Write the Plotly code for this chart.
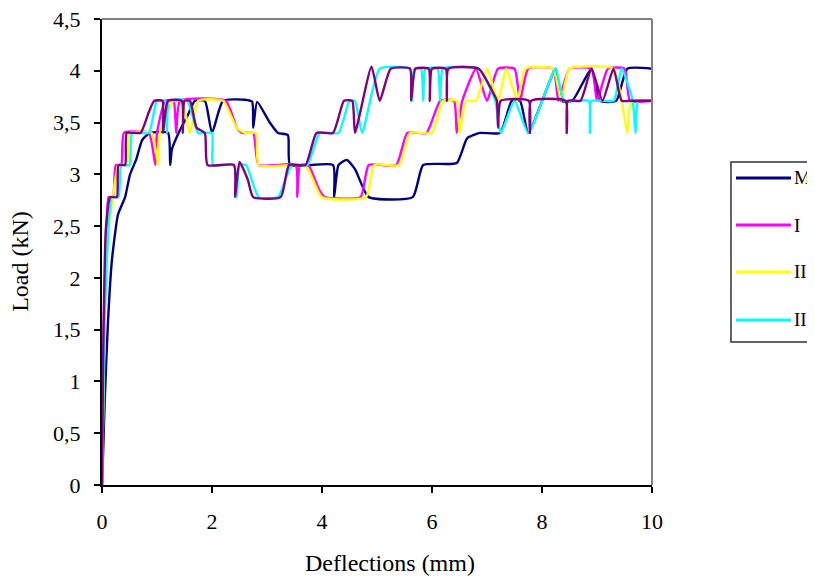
import plotly.graph_objects as go

# load-deflection curves (x in mm, y in kN)
m_x = [0, 0.02, 0.05, 0.11, 0.18, 0.29, 0.42, 0.51, 0.62, 0.73, 0.87, 1.2, 1.24, 1.27, 1.42, 1.56,
       1.69, 1.87, 2.0, 2.2, 2.6, 2.73, 2.75, 2.82, 3.05, 3.2, 3.38, 3.42, 4.2, 4.22, 4.3, 4.45,
       4.6, 4.85, 5.65, 5.84, 6.45, 6.64, 6.87, 7.24, 7.45, 7.6, 7.75, 8.25, 8.35, 8.55, 8.9,
       9.05, 9.35, 9.55, 10]
m_y = [0, 0.31, 0.82, 1.59, 2.17, 2.61, 2.78, 3.0, 3.14, 3.33, 3.40, 3.40, 3.09, 3.24, 3.43, 3.57,
       3.71, 3.71, 3.40, 3.71, 3.72, 3.70, 3.45, 3.70, 3.50, 3.40, 3.38, 3.09, 3.09, 2.78, 3.09, 3.14,
       3.05, 2.78, 2.78, 3.09, 3.11, 3.35, 3.40, 3.40, 3.71, 3.71, 3.40, 4.02, 3.71, 3.71, 4.02,
       3.71, 3.71, 4.02, 4.02]

i_x = [0, 0.03, 0.08, 0.12, 0.2, 0.25, 0.35, 0.4, 0.85, 0.97, 1.0, 1.15, 1.3, 1.35, 1.42, 2.25,
       2.45, 2.55, 2.75, 2.85, 3.52, 3.55, 3.6, 3.75, 3.95, 4.05, 4.7, 4.85, 5.35, 5.55, 5.9, 6.15,
       6.4, 6.45, 6.55, 6.8, 7.0, 7.2, 7.5, 7.6, 7.75, 8.2, 8.3, 8.5, 8.9, 9.0, 9.2, 9.5, 9.6, 10]
i_y = [0, 1.5, 2.4, 2.78, 2.78, 3.09, 3.09, 3.40, 3.40, 3.09, 3.40, 3.71, 3.71, 3.40, 3.71, 3.71,
       3.45, 3.40, 3.40, 3.09, 3.09, 2.78, 3.09, 3.09, 2.85, 2.78, 2.78, 3.09, 3.09, 3.40, 3.40, 3.71,
       3.71, 3.40, 3.71, 4.02, 3.71, 4.02, 4.02, 3.71, 4.02, 4.02, 3.71, 4.02, 4.02, 3.71, 4.02, 4.02, 3.71, 3.71]

ii_x = [0, 0.05, 0.12, 0.2, 0.3, 0.45, 0.5, 0.9, 1.02, 1.05, 1.3, 1.45, 1.6, 1.75, 2.2, 2.45, 2.6,
        2.8, 2.85, 3.65, 3.75, 4.0, 4.8, 4.95, 5.4, 5.6, 6.0, 6.2, 6.45, 6.5, 6.62, 6.8, 7.0, 7.2,
        7.35, 7.55, 7.7, 8.2, 8.35, 8.5, 9.3, 9.45, 9.55, 9.62, 10]
ii_y = [0, 1.6, 2.5, 2.78, 3.09, 3.09, 3.40, 3.40, 3.09, 3.40, 3.71, 3.71, 3.40, 3.71, 3.71, 3.45, 3.40,
        3.40, 3.09, 3.09, 3.05, 2.78, 2.78, 3.09, 3.09, 3.40, 3.40, 3.71, 3.71, 3.40, 3.71, 3.71, 4.02, 3.71,
        4.02, 3.71, 4.02, 4.02, 3.71, 4.02, 4.02, 3.71, 3.40, 3.71, 3.71]

iib_x = [0, 0.04, 0.1, 0.18, 0.3, 0.35, 0.5, 0.55, 0.85, 1.0, 1.15, 1.18, 1.22, 1.55, 1.75, 2.0,
         2.02, 2.4, 2.45, 2.5, 2.62, 2.85, 3.2, 3.45, 3.73, 3.96, 4.3, 4.5, 4.6, 4.73, 5.05, 5.6,
         5.64, 5.68, 5.8, 5.84, 5.88, 6.1, 6.15, 6.2, 6.85, 7.15, 7.25, 7.5, 7.75, 8.25, 8.4, 8.85,
         8.87, 8.9, 9.3, 9.45, 9.65, 9.7, 9.75, 10]
iib_y = [0, 1.4, 2.3, 2.78, 2.78, 3.09, 3.09, 3.40, 3.40, 3.71, 3.71, 3.40, 3.71, 3.71, 3.40, 3.40,
         3.09, 3.09, 2.78, 3.09, 3.09, 2.78, 2.78, 3.09, 3.09, 3.40, 3.40, 3.71, 3.71, 3.40, 4.02, 4.02,
         3.71, 4.02, 4.02, 3.71, 4.02, 4.02, 3.71, 4.02, 4.02, 3.71, 3.40, 3.71, 3.40, 4.02, 3.71, 3.71,
         3.40, 3.71, 3.71, 4.02, 3.71, 3.40, 3.71, 3.71]

v_x = [0, 0.02, 0.07, 0.15, 0.27, 0.3, 0.42, 0.45, 0.7, 0.85, 0.95, 1.1, 1.11, 1.2, 1.45, 1.47,
       1.5, 1.6, 1.72, 1.87, 1.92, 2.4, 2.42, 2.5, 2.65, 2.75, 3.25, 3.4, 3.7, 3.9, 4.2, 4.4, 4.55,
       4.6, 4.9, 5.05, 5.25, 5.6, 5.62, 5.7, 5.94, 5.96, 6.0, 6.25, 6.27, 6.3, 6.85, 7.1, 7.18,
       7.2, 7.25, 7.76, 7.78, 7.8, 8.43, 8.45, 8.47, 8.7, 8.9, 9.1, 9.3, 9.45, 9.6, 10]
v_y = [0, 1.2, 2.47, 2.78, 2.78, 3.09, 3.09, 3.40, 3.40, 3.6, 3.71, 3.71, 3.40, 3.71, 3.71, 3.40,
       3.71, 3.71, 3.45, 3.40, 3.09, 3.09, 2.78, 3.12, 2.95, 2.78, 2.78, 3.09, 3.09, 3.40, 3.40, 3.71, 3.71,
       3.40, 4.04, 3.71, 4.02, 4.02, 3.71, 4.02, 4.02, 3.71, 4.02, 4.02, 3.71, 4.02, 4.02, 3.8, 3.71,
       3.45, 3.71, 3.71, 3.40, 3.71, 3.71, 3.40, 3.71, 3.71, 4.02, 3.71, 4.02, 3.71, 3.71, 3.71]

names = ["M", "I", "II", "II", ""]
colors = ["#000080", "#FF00FF", "#FFFF00", "#00FFFF", "#800080"]
xs = [m_x, i_x, ii_x, iib_x, v_x]
ys = [m_y, i_y, ii_y, iib_y, v_y]

serif = "Liberation Serif"

fig = go.Figure()
for x, y, n, c in zip(xs, ys, names, colors):
    fig.add_trace(go.Scatter(x=x, y=y, name=n, mode="lines",
                             line=dict(color=c, width=2.4, shape="spline", smoothing=0.5)))

# page has an 8px body margin: keep the figure inside the window (no scrollbars)
# and place the plot box at 102..652 / 19..485 of the window
fig.update_layout(
    width=807, height=570,
    margin=dict(l=94, r=163, t=11, b=93),
    plot_bgcolor="white", paper_bgcolor="white",
    showlegend=False,
    separators=", ",
    font=dict(family=serif, size=22, color="black"),
)
fig.update_xaxes(range=[0, 10], dtick=2, showgrid=False, zeroline=False, automargin=False,
                 showline=True, linecolor="black", linewidth=2,
                 ticks="outside", ticklen=6, tickwidth=1.5, tickcolor="black",
                 ticklabelstandoff=10, ticklabeloverflow="allow")
fig.update_yaxes(range=[0, 4.5], dtick=0.5, showgrid=False, zeroline=False, automargin=False,
                 showline=True, linecolor="black", linewidth=2,
                 ticks="outside", ticklen=6, tickwidth=1.5, tickcolor="black",
                 ticklabelstandoff=9, ticklabeloverflow="allow")

# axis titles sit a bit off-centre in the original, so place them by hand
fig.add_annotation(xref="paper", yref="paper", x=0.524, y=-0.167, text="Deflections (mm)",
                   showarrow=False, xanchor="center", yanchor="middle",
                   font=dict(family=serif, size=24, color="black"))
fig.add_annotation(xref="paper", yref="paper", x=-0.149, y=0.479, text="Load (kN)", textangle=-90,
                   showarrow=False, xanchor="center", yanchor="middle",
                   font=dict(family=serif, size=24, color="black"))

# grey frame on top and right like the spreadsheet chart
fig.add_shape(type="line", xref="paper", yref="paper", x0=0, y0=1, x1=1, y1=1,
              line=dict(color="#808080", width=2))
fig.add_shape(type="line", xref="paper", yref="paper", x0=1, y0=0, x1=1, y1=1,
              line=dict(color="#808080", width=2))

# legend box, cut off by the right edge
fig.add_shape(type="rect", xref="paper", yref="paper", x0=1.1436, y0=0.3069, x1=1.32, y1=0.6931,
              line=dict(color="#333333", width=1.5), fillcolor="white", layer="above")
leg_y = [0.6588, 0.5579, 0.4571, 0.3541]
for ly, n, c in zip(leg_y, names[:4], colors[:4]):
    fig.add_shape(type="line", xref="paper", yref="paper", x0=1.1527, x1=1.2527, y0=ly, y1=ly,
                  line=dict(color=c, width=3), layer="above")
    fig.add_annotation(xref="paper", yref="paper", x=1.255, y=ly, text=n, showarrow=False,
                       xanchor="left", yanchor="middle", font=dict(family=serif, size=19, color="black"))

fig.write_html("out.html")
